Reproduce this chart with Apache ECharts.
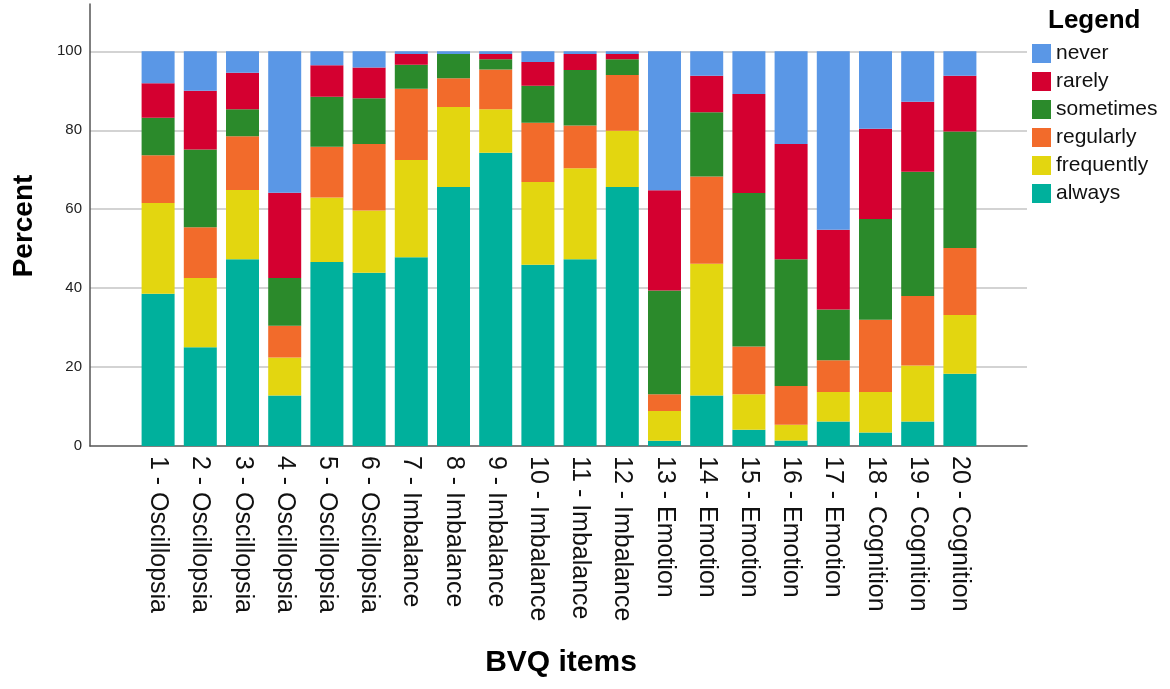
<!DOCTYPE html>
<html>
<head>
<meta charset="utf-8">
<script src="https://cdn.jsdelivr.net/npm/echarts@6/dist/echarts.min.js"></script>
<style>
  html, body { margin: 0; padding: 0; background: #fff; }
  #container { width: 1170px; height: 689px; }
</style>
</head>
<body>
<div id="container"></div>
<script>
var items = [
  '1 - Oscillopsia', '2 - Oscillopsia', '3 - Oscillopsia', '4 - Oscillopsia',
  '5 - Oscillopsia', '6 - Oscillopsia', '7 - Imbalance', '8 - Imbalance',
  '9 - Imbalance', '10 - Imbalance', '11 - Imbalance', '12 - Imbalance',
  '13 - Emotion', '14 - Emotion', '15 - Emotion', '16 - Emotion',
  '17 - Emotion', '18 - Cognition', '19 - Cognition', '20 - Cognition'
];
// stacked from the bottom up
var always     = [38.6, 25.0, 47.3, 12.8, 46.6, 43.9, 47.8, 65.6, 74.3, 45.9, 47.3, 65.6, 1.3, 12.8, 4.1, 1.4, 6.2, 3.4, 6.2, 18.3];
var frequently = [23.0, 17.6, 17.6, 9.6, 16.4, 15.8, 24.7, 20.3, 11.0, 21.0, 23.1, 14.3, 7.6, 33.4, 9.0, 4.0, 7.5, 10.3, 14.2, 14.9];
var regularly  = [12.1, 12.8, 13.6, 8.1, 12.8, 16.8, 18.0, 7.3, 10.1, 15.0, 10.8, 14.1, 4.2, 22.1, 12.1, 9.8, 8.0, 18.3, 17.6, 17.0];
var sometimes  = [9.5, 19.7, 6.8, 12.1, 12.7, 11.6, 6.1, 6.1, 2.6, 9.4, 14.1, 4.0, 26.3, 16.3, 38.9, 32.1, 12.9, 25.5, 31.5, 29.5];
var rarely     = [8.7, 14.9, 9.3, 21.6, 8.0, 7.8, 2.7, 0.0, 1.3, 6.0, 4.0, 1.3, 25.4, 9.2, 25.1, 29.2, 20.2, 22.9, 17.7, 14.1];
var never      = [8.1, 10.0, 5.4, 35.8, 3.5, 4.1, 0.7, 0.7, 0.7, 2.7, 0.7, 0.7, 35.2, 6.2, 10.8, 23.5, 45.2, 19.6, 12.8, 6.2];
var yTicks = [0, 20, 40, 60, 80, 100];

var font = 'Liberation Sans, Arial, sans-serif';
var colors = {
  never: '#5a97e6', rarely: '#d40030', sometimes: '#2b8a2b',
  regularly: '#f26b2b', frequently: '#e3d610', always: '#00b09c'
};

function bar(name, values) {
  return {
    name: name,
    type: 'bar',
    stack: 'total',
    xAxisIndex: 1,
    yAxisIndex: 1,
    barWidth: 33,
    itemStyle: { color: colors[name] },
    data: values
  };
}

var myChart = echarts.init(document.getElementById('container'));
var option = {
  animation: false,
  textStyle: { fontFamily: font },
  legend: {
    orient: 'vertical',
    left: 1027,
    top: 38,
    icon: 'rect',
    itemWidth: 19,
    itemHeight: 19,
    itemGap: 7,
    textStyle: { fontSize: 21, color: '#111', fontFamily: font, lineHeight: 19 },
    data: ['never', 'rarely', 'sometimes', 'regularly', 'frequently', 'always']
  },
  grid: [
    { left: 90, right: 143, top: 4, bottom: 243 },
    { left: 137, right: 189, top: 4, bottom: 243 }
  ],
  xAxis: [
    {
      gridIndex: 0, type: 'value', min: 0, max: 1,
      axisLine: { show: true, lineStyle: { color: '#555', width: 1.5 } },
      axisTick: { show: false }, axisLabel: { show: false }, splitLine: { show: false }
    },
    {
      gridIndex: 1, type: 'category', data: items,
      axisLine: { show: false }, axisTick: { show: false },
      axisLabel: { rotate: -90, interval: 0, margin: 10, fontSize: 25, color: '#111', fontFamily: font }
    }
  ],
  yAxis: [
    {
      gridIndex: 0, type: 'value', min: 0, max: 112, interval: 20,
      axisLine: { show: true, lineStyle: { color: '#555', width: 1.5 } },
      axisTick: { show: false },
      axisLabel: {
        fontSize: 15, color: '#222', margin: 8, showMaxLabel: false,
        formatter: function (v) { return yTicks.indexOf(v) >= 0 ? v : ''; }
      },
      splitLine: { show: true, showMinLine: false, showMaxLine: false, lineStyle: { color: '#c4c4c4', width: 1.5 } }
    },
    {
      gridIndex: 1, type: 'value', min: 0, max: 112, show: false,
      splitLine: { show: false }
    }
  ],
  graphic: [
    { type: 'text', left: 1048, top: 8, style: { text: 'Legend', fontSize: 26, fontWeight: 'bold', fill: '#000', fontFamily: font } },
    { type: 'text', x: 24, y: 226, rotation: Math.PI / 2,
      style: { text: 'Percent', fontSize: 28, fontWeight: 'bold', fill: '#000', fontFamily: font, align: 'center', verticalAlign: 'middle' } },
    { type: 'text', x: 561, y: 663,
      style: { text: 'BVQ items', fontSize: 30, fontWeight: 'bold', fill: '#000', fontFamily: font, align: 'center', verticalAlign: 'middle' } }
  ],
  series: [
    bar('always', always),
    bar('frequently', frequently),
    bar('regularly', regularly),
    bar('sometimes', sometimes),
    bar('rarely', rarely),
    bar('never', never)
  ]
};
myChart.setOption(option);
</script>
</body>
</html>
